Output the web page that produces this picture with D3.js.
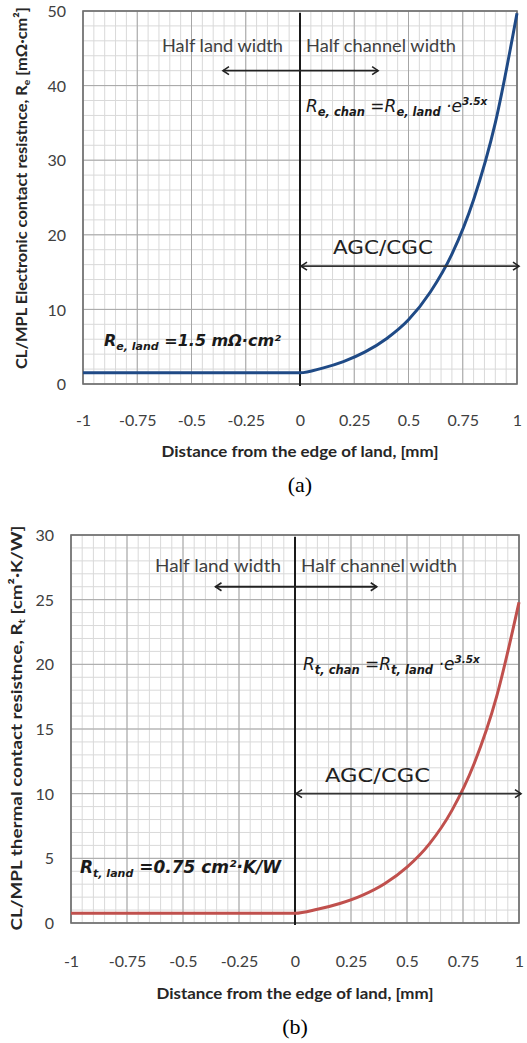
<!DOCTYPE html>
<html>
<head>
<meta charset="utf-8">
<script src="https://cdn.jsdelivr.net/npm/d3@7/dist/d3.min.js"></script>
<style>
  html, body { margin: 0; padding: 0; background: #fff; }
  svg { display: block; }
</style>
</head>
<body>
<svg id="chart" width="527" height="1043"></svg>
<script>
// ---- data ----
const distanceMm = [-1, -0.5, 0, 0.1, 0.2, 0.3, 0.4, 0.5, 0.6, 0.7, 0.8, 0.9, 1.0];
const electronicRes = [1.5, 1.5, 1.5, 2.1, 3.0, 4.3, 6.1, 8.6, 12.3, 17.4, 24.7, 35.0, 49.7];
const thermalRes = [0.75, 0.75, 0.75, 1.06, 1.51, 2.14, 3.04, 4.32, 6.12, 8.69, 12.33, 17.5, 24.8];
const xTickValues = [-1, -0.75, -0.5, -0.25, 0, 0.25, 0.5, 0.75, 1];
const xTickLabels = ["-1", "-0.75", "-0.5", "-0.25", "0", "0.25", "0.5", "0.75", "1"];
const yTicksA = [0, 10, 20, 30, 40, 50];
const yTicksB = [0, 5, 10, 15, 20, 25, 30];
const xTitle = "Distance from the edge of land, [mm]";

const svg = d3.select("#chart");
const uiFont = "Lato, 'Noto Sans', sans-serif";
const gothic = "'DejaVu Sans', sans-serif";

function drawPanel(o) {
  const x = d3.scaleLinear().domain([-1, 1]).range([o.left, o.right]);
  const y = d3.scaleLinear().domain([0, o.yMax]).range([o.bottom, o.top]);
  const g = svg.append("g");

  // minor grid
  const xMinor = d3.range(-1, 1.0001, 0.05);
  const yMinor = d3.range(0, o.yMax + 0.0001, o.yMinorStep);
  g.append("g").selectAll("line").data(xMinor).join("line")
    .attr("x1", d => x(d)).attr("x2", d => x(d)).attr("y1", o.top).attr("y2", o.bottom)
    .attr("stroke", "#d9d9d9").attr("stroke-width", 1);
  g.append("g").selectAll("line").data(yMinor).join("line")
    .attr("y1", d => y(d)).attr("y2", d => y(d)).attr("x1", o.left).attr("x2", o.right)
    .attr("stroke", "#d9d9d9").attr("stroke-width", 1);
  // major grid
  g.append("g").selectAll("line").data(xTickValues).join("line")
    .attr("x1", d => x(d)).attr("x2", d => x(d)).attr("y1", o.top).attr("y2", o.bottom)
    .attr("stroke", "#a6a6a6").attr("stroke-width", 1);
  g.append("g").selectAll("line").data(o.yTicks).join("line")
    .attr("y1", d => y(d)).attr("y2", d => y(d)).attr("x1", o.left).attr("x2", o.right)
    .attr("stroke", "#a6a6a6").attr("stroke-width", 1);

  // frame
  g.append("rect").attr("x", o.left).attr("y", o.top)
    .attr("width", o.right - o.left).attr("height", o.bottom - o.top)
    .attr("fill", "none").attr("stroke", "#6e6e6e").attr("stroke-width", 1.6);

  // axes (labels only)
  const xAxis = d3.axisBottom(x).tickValues(xTickValues)
    .tickFormat((d, i) => xTickLabels[i]).tickSize(0).tickPadding(0);
  const xa = g.append("g").attr("transform", `translate(0,${o.bottom})`).call(xAxis);
  xa.select(".domain").remove();
  xa.selectAll("text").attr("y", o.xLabelDy).attr("dy", 0)
    .attr("font-family", uiFont).attr("font-size", 16).attr("fill", "#404040");

  const yAxis = d3.axisLeft(y).tickValues(o.yTicks).tickSize(0).tickPadding(0);
  const ya = g.append("g").attr("transform", `translate(${o.yLabelX},0)`).call(yAxis);
  ya.select(".domain").remove();
  ya.selectAll("text").attr("x", 0).attr("dy", "0.35em")
    .attr("font-family", uiFont).attr("font-size", 16).attr("fill", "#404040");

  // zero vertical line
  g.append("line").attr("x1", x(0)).attr("x2", x(0)).attr("y1", o.top + 2).attr("y2", o.bottom + 2)
    .attr("stroke", "#1a1a1a").attr("stroke-width", 2);

  // curve
  const line = d3.line().x((d, i) => x(distanceMm[i])).y(d => y(d)).curve(d3.curveMonotoneX);
  g.append("path").datum(o.values).attr("d", line)
    .attr("fill", "none").attr("stroke", o.color).attr("stroke-width", 3);

  // arrows
  const mid = "arr" + o.id;
  const defs = svg.append("defs");
  defs.append("marker").attr("id", mid + "e").attr("viewBox", "-8 -5 10 10")
    .attr("refX", 0).attr("refY", 0).attr("markerWidth", 10).attr("markerHeight", 10)
    .attr("markerUnits", "userSpaceOnUse").attr("orient", "auto")
    .append("path").attr("d", "M-6,-4 L0,0 L-6,4").attr("fill", "none")
    .attr("stroke", "#222").attr("stroke-width", 1.6);
  defs.append("marker").attr("id", mid + "s").attr("viewBox", "-2 -5 10 10")
    .attr("refX", 0).attr("refY", 0).attr("markerWidth", 10).attr("markerHeight", 10)
    .attr("markerUnits", "userSpaceOnUse").attr("orient", "auto")
    .append("path").attr("d", "M6,-4 L0,0 L6,4").attr("fill", "none")
    .attr("stroke", "#222").attr("stroke-width", 1.6);

  g.append("line").attr("x1", x(o.halfArrow[0])).attr("x2", x(o.halfArrow[1]))
    .attr("y1", y(o.halfArrowY)).attr("y2", y(o.halfArrowY))
    .attr("stroke", "#222").attr("stroke-width", 1.8)
    .attr("marker-start", `url(#${mid}s)`).attr("marker-end", `url(#${mid}e)`);
  g.append("line").attr("x1", x(0) + 1).attr("x2", x(1) + 2)
    .attr("y1", y(o.agcY)).attr("y2", y(o.agcY))
    .attr("stroke", "#333").attr("stroke-width", 1.6)
    .attr("marker-start", `url(#${mid}s)`).attr("marker-end", `url(#${mid}e)`);

  // texts
  g.append("text").attr("x", x(0) - o.halfGap).attr("y", o.halfTextY).attr("text-anchor", "end")
    .attr("font-family", uiFont).attr("font-size", 18).attr("fill", "#404040")
    .attr("textLength", o.halfLandLen).attr("lengthAdjust", "spacingAndGlyphs")
    .text("Half land width");
  g.append("text").attr("x", x(0) + 6).attr("y", o.halfTextY)
    .attr("font-family", uiFont).attr("font-size", 18).attr("fill", "#404040")
    .attr("textLength", o.halfChanLen).attr("lengthAdjust", "spacingAndGlyphs")
    .text("Half channel width");

  g.append("text").attr("x", o.agcX).attr("y", o.agcTextY)
    .attr("font-family", gothic).attr("font-size", 20).attr("fill", "#222")
    .attr("textLength", o.agcLen).attr("lengthAdjust", "spacingAndGlyphs")
    .text("AGC/CGC");

  // formula
  const f = g.append("text").attr("x", o.formulaX).attr("y", o.formulaY)
    .attr("font-family", gothic).attr("font-style", "italic").attr("fill", "#1a1a1a")
    .attr("font-size", 17);
  f.append("tspan").text("R");
  f.append("tspan").attr("font-size", 11.5).attr("dy", 4).attr("font-weight", "bold").text(o.sub + ", chan");
  f.append("tspan").attr("dy", -4).text(" =R");
  f.append("tspan").attr("font-size", 11.5).attr("dy", 4).attr("font-weight", "bold").text(o.sub + ", land");
  f.append("tspan").attr("dy", -4).text(" \u00b7e");
  f.append("tspan").attr("font-size", 10.5).attr("dy", -7).attr("font-weight", "bold").text("3.5x");

  // land value
  const l = g.append("text").attr("x", o.landX).attr("y", o.landY)
    .attr("font-family", gothic).attr("font-style", "italic").attr("font-weight", "bold")
    .attr("fill", "#1a1a1a").attr("font-size", o.landSize);
  l.append("tspan").text("R");
  l.append("tspan").attr("font-size", 11).attr("dy", 4).text(o.sub + ", land");
  l.append("tspan").attr("dy", -4).text(" =" + o.landText);

  // x title
  g.append("text").attr("x", x(0)).attr("y", o.xTitleY).attr("text-anchor", "middle")
    .attr("font-family", uiFont).attr("font-weight", "bold").attr("font-size", 16)
    .attr("textLength", 277).attr("lengthAdjust", "spacingAndGlyphs")
    .attr("fill", "#262626").text(xTitle);

  // y title
  const yt = g.append("text")
    .attr("transform", `translate(${o.yTitleX},${o.yTitleY}) rotate(-90)`)
    .attr("text-anchor", "middle").attr("font-family", uiFont).attr("font-weight", "bold")
    .attr("font-size", o.yTitleSize).attr("fill", "#262626")
    .attr("textLength", o.yTitleLen).attr("lengthAdjust", "spacingAndGlyphs");
  yt.append("tspan").text(o.yTitle[0]);
  yt.append("tspan").attr("font-size", 10).attr("dy", 3).text(o.yTitle[1]);
  yt.append("tspan").attr("dy", -3).text(o.yTitle[2]);

  // caption
  g.append("text").attr("x", x(0)).attr("y", o.capY).attr("text-anchor", "middle")
    .attr("font-family", "'Liberation Serif', 'Times New Roman', serif").attr("font-size", 22)
    .attr("fill", "#000").text(o.caption);
}

drawPanel({
  id: "a", left: 83, right: 517, top: 11, bottom: 384, yMax: 50, yMinorStep: 2,
  yTicks: yTicksA, values: electronicRes, color: "#1f4a86",
  xLabelDy: 42, yLabelX: 66,
  halfArrow: [-0.355, 0.36], halfArrowY: 42, halfTextY: 52, halfGap: 17,
  halfLandLen: 121, halfChanLen: 150,
  agcY: 15.8, agcX: 333, agcTextY: 254, agcLen: 100,
  formulaX: 306, formulaY: 112, sub: "e",
  landX: 104, landY: 346, landSize: 16, landText: "1.5 m\u03a9\u00b7cm\u00b2",
  xTitleY: 457, yTitleX: 27, yTitleY: 188, yTitleSize: 16, yTitleLen: 362,
  yTitle: ["CL/MPL Electronic contact resistnce, R", "e", "  [m\u03a9\u00b7cm\u00b2]"],
  capY: 492, caption: "(a)"
});

drawPanel({
  id: "b", left: 71, right: 519, top: 535, bottom: 923, yMax: 30, yMinorStep: 1,
  yTicks: yTicksB, values: thermalRes, color: "#c0504d",
  xLabelDy: 44, yLabelX: 54,
  halfArrow: [-0.355, 0.365], halfArrowY: 26, halfTextY: 572, halfGap: 14,
  halfLandLen: 126, halfChanLen: 156,
  agcY: 10, agcX: 325, agcTextY: 782, agcLen: 105,
  formulaX: 303, formulaY: 670, sub: "t",
  landX: 80, landY: 873, landSize: 17, landText: "0.75 cm\u00b2\u00b7K/W",
  xTitleY: 999, yTitleX: 22, yTitleY: 728, yTitleSize: 16, yTitleLen: 405,
  yTitle: ["CL/MPL thermal contact resistnce, R", "t", " [cm\u00b2\u00b7K/W]"],
  capY: 1034, caption: "(b)"
});
</script>
</body>
</html>
